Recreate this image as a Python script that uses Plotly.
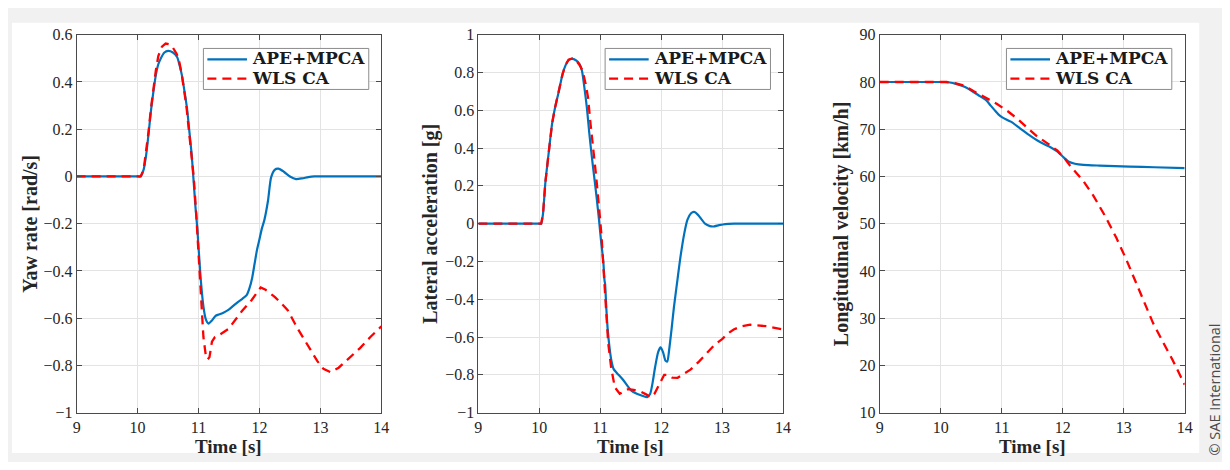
import plotly.graph_objects as go

# ---------------- Data ----------------
# Panel 1: yaw rate [rad/s]
t_yaw_ape = [9, 10.0, 10.05, 10.1, 10.14, 10.18, 10.22, 10.26, 10.3, 10.34, 10.38, 10.44, 10.5, 10.58, 10.65,
             10.69, 10.73, 10.77, 10.81, 10.85, 10.89, 10.95, 10.98, 11.03, 11.08, 11.12, 11.165, 11.22, 11.28,
             11.33, 11.4, 11.49, 11.57, 11.65, 11.72, 11.79, 11.84, 11.88, 11.92, 11.96, 12.0, 12.04, 12.08,
             12.14, 12.19, 12.25, 12.31, 12.4, 12.5, 12.6, 12.7, 12.8, 12.9, 13.5, 14.0]
yaw_ape = [0, 0, 0.0, 0.03, 0.09, 0.18, 0.28, 0.36, 0.43, 0.475, 0.50, 0.525, 0.532, 0.525, 0.505,
           0.47, 0.425, 0.36, 0.29, 0.19, 0.085, -0.13, -0.22, -0.415, -0.55, -0.605, -0.623, -0.61, -0.59,
           -0.585, -0.578, -0.565, -0.548, -0.531, -0.518, -0.503, -0.47, -0.43, -0.37, -0.31, -0.266, -0.22, -0.185,
           -0.103, -0.005, 0.028, 0.033, 0.02, 0.0, -0.011, -0.008, -0.003, 0.0, 0.0, 0.0]

t_yaw_wls = [9, 10.0, 10.05, 10.1, 10.14, 10.18, 10.22, 10.26, 10.3, 10.34, 10.4, 10.46, 10.52, 10.58, 10.64,
             10.68, 10.72, 10.76, 10.8, 10.84, 10.88, 10.92, 10.96, 11.0, 11.04, 11.08, 11.12, 11.15, 11.18,
             11.22, 11.27, 11.33, 11.49, 11.6, 11.71, 11.87, 12.02, 12.1, 12.25, 12.35, 12.46, 12.63, 12.8,
             12.95, 13.05, 13.17, 13.3, 13.45, 13.65, 13.82, 14.0]
yaw_wls = [0, 0, 0, 0.03, 0.1, 0.19, 0.29, 0.38, 0.45, 0.51, 0.55, 0.563, 0.56, 0.545, 0.52,
           0.49, 0.44, 0.37, 0.3, 0.2, 0.1, 0.0, -0.15, -0.32, -0.5, -0.68, -0.76, -0.775, -0.765,
           -0.70, -0.68, -0.673, -0.646, -0.61, -0.571, -0.524, -0.47, -0.48, -0.51, -0.535, -0.565, -0.646, -0.72,
           -0.782, -0.815, -0.829, -0.81, -0.775, -0.727, -0.68, -0.635]

# Panel 2: lateral acceleration [g]
t_lat_ape = [9, 10.0, 10.03, 10.06, 10.1, 10.155, 10.21, 10.26, 10.32, 10.38, 10.43, 10.48, 10.53, 10.6, 10.66,
             10.7, 10.74, 10.78, 10.82, 10.86, 10.9, 10.94, 10.98, 11.01, 11.05, 11.07, 11.08, 11.1, 11.12,
             11.15, 11.18, 11.22, 11.3, 11.37, 11.45, 11.51, 11.6, 11.7, 11.77, 11.82, 11.86, 11.9, 11.95,
             11.99, 12.03, 12.07, 12.1, 12.13, 12.17, 12.21, 12.27, 12.32, 12.38, 12.43, 12.49, 12.54, 12.6,
             12.65, 12.72, 12.8, 12.86, 12.95, 13.05, 13.2, 14.0]
lat_ape = [0, 0, 0.0, 0.05, 0.22, 0.378, 0.53, 0.616, 0.70, 0.79, 0.838, 0.865, 0.872, 0.865, 0.845,
           0.81, 0.72, 0.616, 0.48, 0.36, 0.25, 0.14, 0.02, -0.08, -0.2, -0.3, -0.32, -0.45, -0.55,
           -0.65, -0.72, -0.77, -0.80, -0.825, -0.86, -0.884, -0.9, -0.912, -0.918, -0.90, -0.84, -0.76, -0.68,
           -0.655, -0.68, -0.725, -0.73, -0.67, -0.56, -0.44, -0.29, -0.168, -0.05, 0.02, 0.055, 0.062, 0.048,
           0.028, 0.0, -0.013, -0.015, -0.008, -0.002, 0.0, 0.0]

t_lat_wls = [9, 10.0, 10.03, 10.06, 10.1, 10.155, 10.21, 10.26, 10.32, 10.38, 10.43, 10.48, 10.54, 10.6, 10.66,
             10.71, 10.76, 10.8, 10.84, 10.89, 10.93, 10.97, 11.02, 11.05, 11.08, 11.13, 11.18, 11.24, 11.32,
             11.4, 11.46, 11.55, 11.67, 11.76, 11.83, 11.89, 11.94, 12.0, 12.05, 12.1, 12.18, 12.27, 12.38,
             12.48, 12.62, 12.76, 12.88, 13.0, 13.1, 13.19, 13.3, 13.46, 13.6, 13.73, 14.0]
lat_wls = [0, 0, 0.0, 0.05, 0.22, 0.378, 0.53, 0.616, 0.70, 0.79, 0.84, 0.868, 0.875, 0.865, 0.84,
           0.81, 0.74, 0.667, 0.53, 0.394, 0.26, 0.122, -0.06, -0.22, -0.39, -0.63, -0.765, -0.867, -0.90,
           -0.885, -0.876, -0.88, -0.89, -0.905, -0.918, -0.9, -0.867, -0.83, -0.80, -0.80, -0.815, -0.816, -0.795,
           -0.773, -0.73, -0.68, -0.64, -0.611, -0.58, -0.56, -0.545, -0.535, -0.538, -0.543, -0.56]

# Panel 3: longitudinal velocity [km/h]
t_vx_ape = [9, 10.0, 10.07, 10.15, 10.25, 10.39, 10.5, 10.62, 10.74, 10.82, 10.88, 10.95, 11.01, 11.15, 11.3,
            11.47, 11.6, 11.7, 11.8, 11.91, 12.02, 12.1, 12.2, 12.34, 12.6, 13.1, 13.5, 14.0]
vx_ape = [80, 80, 80, 79.9, 79.6, 79.0, 78.2, 77.2, 76.2, 75.0, 74.1, 73.1, 72.5, 71.6, 70.2,
          68.6, 67.5, 66.8, 66.2, 65.3, 64.0, 63.1, 62.7, 62.45, 62.3, 62.1, 61.95, 61.75]

t_vx_wls = [9, 10.1, 10.25, 10.39, 10.55, 10.75, 10.93, 11.1, 11.26, 11.42, 11.58, 11.75, 11.91, 12.02, 12.12,
            12.34, 12.5, 12.7, 12.88, 13.04, 13.25, 13.48, 13.65, 13.8, 14.0]
vx_wls = [80, 80, 79.7, 79.2, 78.0, 76.6, 75.3, 73.8, 72.2, 70.3, 68.5, 67.0, 65.5, 64.0, 62.3,
          59.0, 56.0, 51.5, 47.0, 42.5, 36.0, 29.0, 24.8, 21.2, 15.9]

series_names = ["APE+MPCA", "WLS CA"]
y_titles = ["Yaw rate [rad/s]", "Lateral acceleration [g]", "Longitudinal velocity [km/h]"]
x_title = "Time [s]"

# ---------------- Styling ----------------
# The page body adds an 8px margin on every side, so the figure is made
# 16px shorter (page stays 470 tall) and all pixel positions below are
# page positions minus 8.
OFF = 8
W, H = 1230 - OFF, 470 - 2 * OFF
BLUE = "#0072BD"
RED = "#FF0000"
AX = "#4a4a4a"
GRID = "#e3e3e3"
SERIF = "Liberation Serif, DejaVu Serif, serif"
LEGFONT = "DejaVu Serif, Liberation Serif, serif"
DASH = "9px,6px"


def px(v):
    return (v - OFF) / W


def py(v):
    return 1 - (v - OFF) / H


# plot areas in page pixels: (left, right, top, bottom)
boxes = [(73.3, 381.0, 27.5, 420.0), (479.0, 786.7, 27.5, 420.0), (884.3, 1192.3, 27.5, 420.0)]
yranges = [(-1, 0.6), (-1, 1), (10, 90)]
ydticks = [0.2, 0.2, 10]
ytitle_x = [26, 431, 846.5]

fig = go.Figure()

data = [
    (t_yaw_ape, yaw_ape, t_yaw_wls, yaw_wls),
    (t_lat_ape, lat_ape, t_lat_wls, lat_wls),
    (t_vx_ape, vx_ape, t_vx_wls, vx_wls),
]
for i, (ta, ya, tw, yw) in enumerate(data):
    sfx = "" if i == 0 else str(i + 1)
    fig.add_trace(go.Scatter(x=ta, y=ya, mode="lines", name=series_names[0], showlegend=False,
                             line=dict(color=BLUE, width=2.2, shape="spline", smoothing=0.6),
                             xaxis="x" + sfx, yaxis="y" + sfx))
    fig.add_trace(go.Scatter(x=tw, y=yw, mode="lines", name=series_names[1], showlegend=False,
                             line=dict(color=RED, width=2.3, dash=DASH),
                             xaxis="x" + sfx, yaxis="y" + sfx))

shapes = [dict(type="rect", xref="paper", yref="paper", x0=0, x1=px(1207), y0=0, y1=py(15),
               fillcolor="white", line=dict(width=0), layer="below")]
annotations = []

for i in range(3):
    l, r, t, b = boxes[i]
    sfx = "" if i == 0 else str(i + 1)
    axcommon = dict(showline=True, linecolor=AX, linewidth=1, mirror="ticks", ticks="inside",
                    ticklen=5, tickcolor=AX, showgrid=True, gridcolor=GRID, gridwidth=1, zeroline=False,
                    tickfont=dict(family=SERIF, size=16, color="#262626"))
    fig.layout["xaxis" + sfx] = dict(domain=[px(l), px(r)], range=[9, 14], dtick=1, tick0=9,
                                     anchor="y" + sfx, **axcommon)
    fig.layout["yaxis" + sfx] = dict(domain=[py(b), py(t)], range=list(yranges[i]),
                                     dtick=ydticks[i], anchor="x" + sfx, **axcommon)

    # legend box (drawn in page pixels relative to the panel's left edge)
    bx0, bx1, by0, by1 = l + 128, l + 295, 41.7, 84.3
    shapes.append(dict(type="rect", xref="paper", yref="paper", x0=px(bx0), x1=px(bx1),
                       y0=py(by1), y1=py(by0), fillcolor="white", line=dict(color="#8c8c8c", width=1)))
    rows = [(53, BLUE, "solid", series_names[0]), (73, RED, DASH, series_names[1])]
    for ry, col, dsh, name in rows:
        shapes.append(dict(type="line", xref="paper", yref="paper", x0=px(bx0 + 4), x1=px(bx0 + 44),
                           y0=py(ry), y1=py(ry), line=dict(color=col, width=2.2, dash=dsh)))
        annotations.append(dict(text=name, xref="paper", yref="paper", x=px(bx0 + 47), y=py(ry - 1),
                                showarrow=False, xanchor="left", yanchor="middle",
                                font=dict(family=LEGFONT, size=17, color="#1a1a1a", weight="bold")))

    annotations.append(dict(text=x_title, xref="paper", yref="paper", x=px((l + r) / 2),
                            y=py(455), showarrow=False, xanchor="center", yanchor="middle",
                            font=dict(family=SERIF, size=19, color="#262626", weight="bold")))
    annotations.append(dict(text=y_titles[i], xref="paper", yref="paper", x=px(ytitle_x[i]),
                            y=py(224), showarrow=False, textangle=-90,
                            xanchor="center", yanchor="middle",
                            font=dict(family=SERIF, size=20, color="#262626", weight="bold")))

annotations.append(dict(text="© SAE International", xref="paper", yref="paper", x=px(1222),
                        y=py(396), showarrow=False, textangle=-90, xanchor="center",
                        yanchor="middle", font=dict(family="Open Sans, sans-serif", size=14.5,
                                                    color="#4a4a4a")))

fig.update_layout(
    width=W, height=H,
    margin=dict(l=0, r=0, t=0, b=0),
    paper_bgcolor="#f1f1f1",
    plot_bgcolor="white",
    showlegend=False,
    font=dict(family=SERIF, color="#262626"),
    shapes=shapes,
    annotations=annotations,
)
fig.write_html("out.html")
